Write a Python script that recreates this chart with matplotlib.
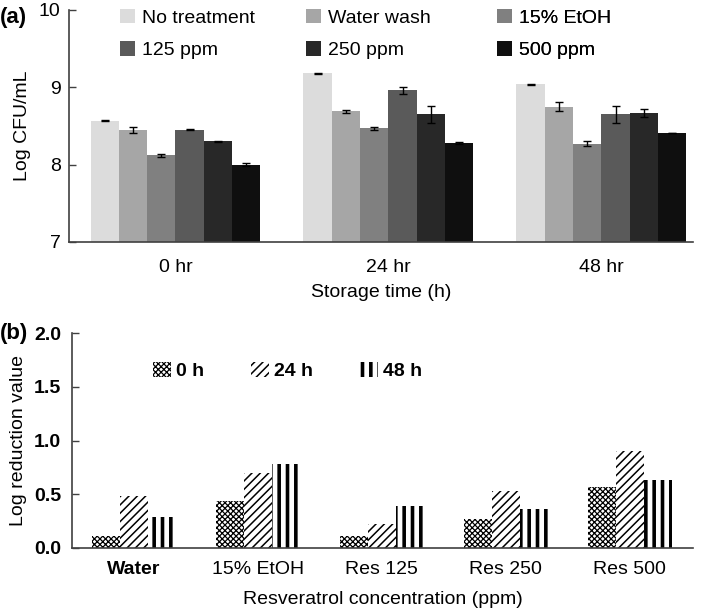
import matplotlib
matplotlib.use("Agg")
import matplotlib.pyplot as plt
import numpy as np

plt.rcParams['font.family'] = ['Liberation Sans', 'DejaVu Sans']

# ---------------- data (a) ----------------
times = ["0 hr", "24 hr", "48 hr"]
treatments = ["No treatment", "Water wash", "15% EtOH", "125 ppm", "250 ppm", "500 ppm"]
cfu_no_treatment = [8.57, 9.18, 9.04]
cfu_water_wash = [8.45, 8.69, 8.75]
cfu_etoh = [8.12, 8.47, 8.27]
cfu_125 = [8.45, 8.96, 8.65]
cfu_250 = [8.30, 8.65, 8.67]
cfu_500 = [8.00, 8.28, 8.41]
err_no_treatment = [0.01, 0.01, 0.005]
err_water_wash = [0.04, 0.02, 0.06]
err_etoh = [0.017, 0.017, 0.03]
err_125 = [0.005, 0.05, 0.11]
err_250 = [0.005, 0.11, 0.05]
err_500 = [0.017, 0.017, 0.005]
colors_a = ["#dcdcdc", "#a6a6a6", "#808080", "#5a5a5a", "#282828", "#0f0f0f"]

# ---------------- data (b) ----------------
groups_b = ["Water", "15% EtOH", "Res 125", "Res 250", "Res 500"]
times_b = ["0 h", "24 h", "48 h"]
lr_0h = [0.11, 0.44, 0.11, 0.27, 0.57]
lr_24h = [0.48, 0.70, 0.22, 0.53, 0.90]
lr_48h = [0.29, 0.78, 0.39, 0.36, 0.63]
hatches_b = ["xxxxxx", "////", "||"]
hatch_lw = [0.9, 1.1, 2.6]

W, H = 709, 612
fig = plt.figure(figsize=(W / 100, H / 100), dpi=100)

def axes_px(l, r, t, b):
    return fig.add_axes([l / W, 1 - b / H, (r - l) / W, (b - t) / H])

spine_col = "#404040"
FS = 14

# ---------------- panel (a) ----------------
ax = axes_px(69, 693, 10, 242)
vals_a = [cfu_no_treatment, cfu_water_wash, cfu_etoh, cfu_125, cfu_250, cfu_500]
errs_a = [err_no_treatment, err_water_wash, err_etoh, err_125, err_250, err_500]
x = np.arange(len(times))
bw = 0.133
handles = []
for i, (v, e, c, lab) in enumerate(zip(vals_a, errs_a, colors_a, treatments)):
    h = ax.bar(x + (i - 2.5) * bw, np.array(v) - 7, bw, bottom=7, color=c, label=lab,
               yerr=e, error_kw=dict(ecolor="black", elinewidth=1.0, capsize=3, capthick=1.0))
    handles.append(h)
ax.set_xlim(-0.5, 2.43)
ax.set_ylim(7, 10)
ax.set_yticks([7, 8, 9, 10])
ax.set_xticks(x)
ax.set_xticklabels(times, fontsize=FS)
ax.tick_params(axis='x', length=0, pad=12)
ax.tick_params(axis='y', direction='in', length=5, width=1.0, color=spine_col, labelsize=FS, pad=6)
for s in ["top", "right"]:
    ax.spines[s].set_visible(False)
for s in ["left", "bottom"]:
    ax.spines[s].set_color(spine_col)
    ax.spines[s].set_linewidth(1.2)
ax.set_ylabel("Log CFU/mL", fontsize=FS, labelpad=6)
ax.set_xlabel("Storage time (h)", fontsize=FS, labelpad=6)

legend_cols_x = [120, 306, 497]
for k in range(3):
    hs = [handles[k], handles[k + 3]]
    ls = [treatments[k], treatments[k + 3]]
    leg = ax.legend(hs, ls, loc="upper left",
                    bbox_to_anchor=((legend_cols_x[k] - 69) / 624, 1 + 1 / 232),
                    frameon=False, fontsize=FS, handlelength=0.75, handleheight=0.75,
                    handletextpad=0.4, labelspacing=0.75, borderaxespad=0, borderpad=0)
    ax.add_artist(leg)

fig.text(0 / W, 1 - 17 / H, "(a)", fontsize=16, fontweight="bold", ha="left", va="center")

# ---------------- panel (b) ----------------
bx = axes_px(72, 693, 333, 548)
xb = np.arange(len(groups_b))
bwb = 0.225
vals_b = [lr_0h, lr_24h, lr_48h]
hb = []
for i, (v, hatch, lw, lab) in enumerate(zip(vals_b, hatches_b, hatch_lw, times_b)):
    with plt.rc_context({"hatch.linewidth": lw}):
        bars = bx.bar(xb + (i - 1) * bwb, v, bwb, facecolor="white", edgecolor="black",
                      linewidth=0, hatch=hatch, label=lab)
        for p in bars:
            if hasattr(p, "set_hatch_linewidth"):
                p.set_hatch_linewidth(lw)
    hb.append(bars)
bx.set_xlim(-0.5, 4.51)
bx.set_ylim(0, 2.0)
bx.set_yticks([0, 0.5, 1.0, 1.5, 2.0])
bx.set_yticklabels(["0.0", "0.5", "1.0", "1.5", "2.0"], fontweight="bold")
bx.set_xticks(xb)
bx.set_xticklabels(groups_b, fontsize=FS)
bx.get_xticklabels()[0].set_fontweight("bold")
bx.tick_params(axis='x', length=0, pad=9)
bx.tick_params(axis='y', direction='in', length=5, width=1.0, color=spine_col, labelsize=FS, pad=8)
for s in ["top", "right"]:
    bx.spines[s].set_visible(False)
for s in ["left", "bottom"]:
    bx.spines[s].set_color(spine_col)
    bx.spines[s].set_linewidth(1.2)
bx.set_ylabel("Log reduction value", fontsize=FS, labelpad=5)
bx.set_xlabel("Resveratrol concentration (ppm)", fontsize=FS, labelpad=10)

legb = bx.legend(hb, times_b, loc="center left", ncol=3,
                 bbox_to_anchor=((153 - 72) / 621, 1 - (371 - 333) / 215),
                 frameon=False, prop=dict(size=FS, weight="bold"),
                 handlelength=0.9, handleheight=0.85, handletextpad=0.3,
                 columnspacing=2.4, borderaxespad=0, borderpad=0)
for p, lw in zip(legb.get_patches(), hatch_lw):
    if hasattr(p, "set_hatch_linewidth"):
        p.set_hatch_linewidth(lw)

fig.text(0 / W, 1 - 333 / H, "(b)", fontsize=16, fontweight="bold", ha="left", va="center")

fig.savefig("out.png", dpi=100)
